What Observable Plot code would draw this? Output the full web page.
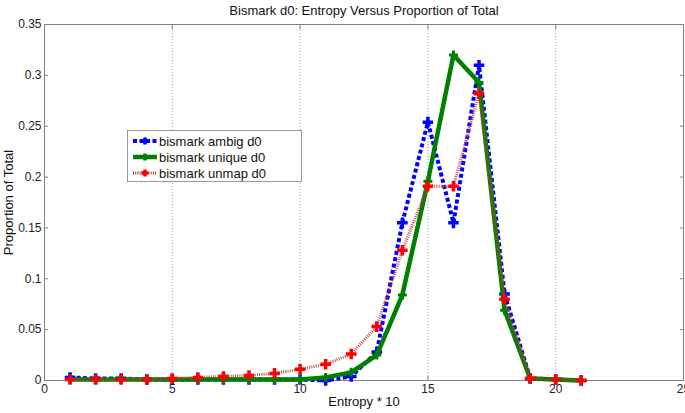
<!DOCTYPE html>
<html><head><meta charset="utf-8">
<script src="https://cdn.jsdelivr.net/npm/d3@7"></script>
<script src="https://cdn.jsdelivr.net/npm/@observablehq/plot@0.6"></script>
<style>
body{margin:0;background:#fff;font-family:"Liberation Sans",Arial,sans-serif;}
#wrap{position:relative;width:685px;height:413px;}
#legend{position:absolute;left:127px;top:130px;width:175px;height:52px;border:1px solid #999;background:#fff;font-size:13px;box-sizing:border-box;padding-top:2px;color:#111;}
#legend .row{display:flex;align-items:center;height:16px;}
#legend svg{margin-left:4px;margin-right:1px;}
</style></head>
<body><div id="wrap"></div>
<script>
const entropy = [1,2,3,4,5,6,7,8,9,10,11,12,13,14,15,16,17,18,19,20,21];
const ambig  = [0.003,0.002,0.002,0.001,0.001,0.001,0.001,0.001,0.001,0.001,0.000,0.004,0.028,0.155,0.254,0.155,0.310,0.085,0.002,0.001,0.000];
const unique = [0.001,0.001,0.001,0.001,0.001,0.001,0.001,0.001,0.001,0.001,0.003,0.008,0.025,0.084,0.196,0.320,0.293,0.069,0.002,0.001,0.000];
const unmap  = [0.001,0.001,0.001,0.001,0.002,0.003,0.004,0.005,0.007,0.011,0.016,0.026,0.053,0.128,0.191,0.191,0.282,0.080,0.002,0.001,0.000];
const seriesNames = ["bismark ambig d0","bismark unique d0","bismark unmap d0"];
const title = "Bismark d0: Entropy Versus Proportion of Total";
const xLabel = "Entropy * 10";
const yLabel = "Proportion of Total";
const xTicks = [0,5,10,15,20,25];
const yTicks = [0,0.05,0.1,0.15,0.2,0.25,0.3,0.35];

const mk = (arr) => entropy.map((x,i)=>({x, y: arr[i]}));
const dA = mk(ambig), dU = mk(unique), dM = mk(unmap);
const fmt = d => d === 0 ? "0" : String(+d.toFixed(2));
const none = () => "";

const chart = Plot.plot({
  width: 685, height: 413,
  marginLeft: 44, marginRight: 2, marginTop: 24, marginBottom: 33,
  style: {fontFamily: '"Liberation Sans", Arial, sans-serif', fontSize: "12px", color: "#222", background: "#fff", overflow: "visible"},
  x: {domain: [0,25]},
  y: {domain: [0,0.35]},
  marks: [
    Plot.gridX(xTicks.filter(t=>t>0&&t<25), {stroke: "#999", strokeOpacity: 1, strokeDasharray: "1,2"}),
    Plot.frame({stroke: "#808080"}),
    Plot.axisX({ticks: xTicks, tickFormat: fmt, tickSize: -4, tickPadding: 8, stroke: "#808080", fill: "#222", fontSize: 12, label: null}),
    Plot.axisX({anchor: "top", ticks: xTicks, tickSize: -4, tickFormat: none, stroke: "#808080", label: null}),
    Plot.axisY({ticks: yTicks, tickFormat: fmt, tickSize: -4, tickPadding: 7, stroke: "#808080", fill: "#222", fontSize: 12, label: null}),
    Plot.axisY({anchor: "right", ticks: yTicks, tickSize: -4, tickFormat: none, stroke: "#808080", label: null}),
    Plot.line(dA, {x: "x", y: "y", stroke: "#0000ff", strokeWidth: 4, strokeDasharray: "4,2.5", strokeLinecap: "butt", strokeLinejoin: "miter"}),
    Plot.dot(dA, {x: "x", y: "y", symbol: "plus", r: 3.5, fill: "#0000ff", stroke: "#0000ff", strokeWidth: 3.5}),
    Plot.line(dU, {x: "x", y: "y", stroke: "#008000", strokeWidth: 4.5, strokeLinejoin: "miter"}),
    Plot.dot(dU, {x: "x", y: "y", symbol: "plus", r: 3, fill: "#008000", stroke: "#008000", strokeWidth: 3}),
    Plot.line(dM, {x: "x", y: "y", stroke: "#c03838", strokeWidth: 3, strokeDasharray: "1,1.2", strokeLinecap: "butt", strokeOpacity: 0.9}),
    Plot.dot(dM, {x: "x", y: "y", symbol: "plus", r: 3.5, fill: "#ff0000", stroke: "#ff0000", strokeWidth: 3.5}),
    Plot.text([title], {frameAnchor: "top", dy: -19, fontSize: 13, fill: "#111", textAnchor: "middle", lineAnchor: "top"}),
    Plot.text([xLabel], {frameAnchor: "bottom", dy: 16, fontSize: 13, fill: "#111", textAnchor: "middle", lineAnchor: "top"}),
    Plot.text([yLabel], {frameAnchor: "left", dx: -32, rotate: -90, fontSize: 13, fill: "#111", textAnchor: "middle", lineAnchor: "bottom"})
  ]
});
const wrap = document.getElementById("wrap");
wrap.appendChild(chart);

const legend = document.createElement("div");
legend.id = "legend";
const styles = [
  {stroke:"#0000ff", w:4, dash:"4,2.5", fill:"#0000ff"},
  {stroke:"#008000", w:4.5, dash:null, fill:"#008000"},
  {stroke:"#c03838", w:3, dash:"1,1.2", fill:"#ff0000"}
];
seriesNames.forEach((n,i)=>{
  const s = styles[i];
  const row = document.createElement("div"); row.className = "row";
  row.innerHTML = `<svg width="26" height="12"><line x1="1" y1="6" x2="25" y2="6" stroke="${s.stroke}" stroke-width="${s.w}" ${s.dash?`stroke-dasharray="${s.dash}"`:""}/><path d="M13,2.5V9.5M9.5,6H16.5" stroke="${s.fill}" stroke-width="3.5"/></svg><span>${n}</span>`;
  legend.appendChild(row);
});
wrap.appendChild(legend);
</script>
</body></html>
